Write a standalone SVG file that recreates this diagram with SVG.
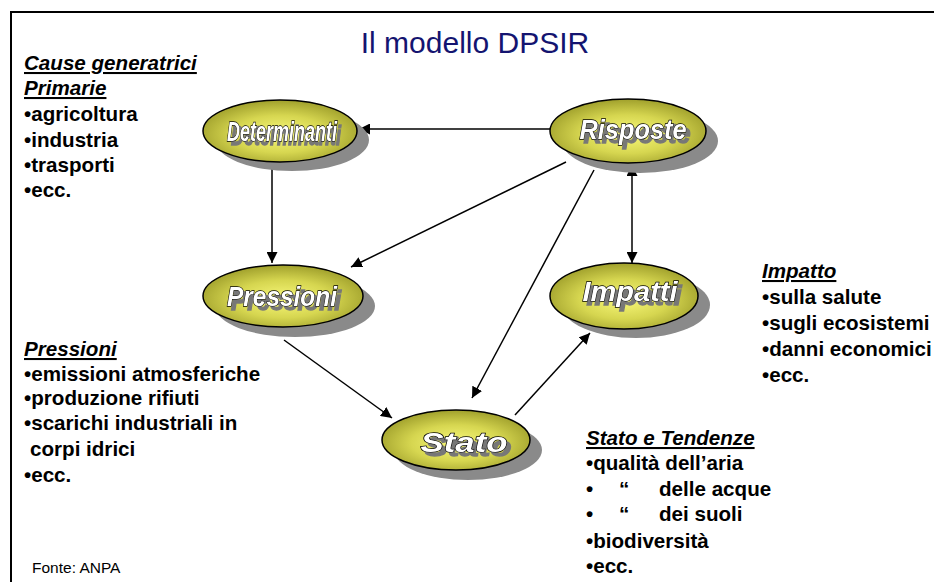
<svg xmlns="http://www.w3.org/2000/svg" width="934" height="582" viewBox="0 0 934 582">
<defs>
<radialGradient id="g" cx="0.5" cy="0.55" r="0.55">
<stop offset="0" stop-color="#f8f87a"/>
<stop offset="0.55" stop-color="#d6d650"/>
<stop offset="1" stop-color="#a0a02c"/>
</radialGradient>
<marker id="ah" viewBox="0 0 10 10" refX="10" refY="5" markerWidth="11" markerHeight="11" markerUnits="userSpaceOnUse" orient="auto-start-reverse">
<path d="M0,0 L10,5 L0,10 z" fill="#000"/>
</marker>
<filter id="tsh" x="-10%" y="-30%" width="130%" height="170%">
<feOffset in="SourceAlpha" dx="4" dy="4" result="o"/>
<feFlood flood-color="#777"/>
<feComposite in2="o" operator="in" result="s"/>
<feMerge><feMergeNode in="s"/><feMergeNode in="SourceGraphic"/></feMerge>
</filter>
</defs>
<style>
.shadow{fill:#8a8a8a}
.ell{fill:url(#g);stroke:#000;stroke-width:1.5}
.lbl{font-family:"Liberation Sans",Arial,sans-serif;font-weight:bold;font-style:italic;font-size:27px;text-anchor:middle;fill:#fff;stroke:#000;stroke-width:1.3;paint-order:stroke;filter:url(#tsh)}
.conn line{stroke:#000;stroke-width:1.5}
.txt{font-family:"Liberation Sans",Arial,sans-serif;font-weight:bold;font-size:20.6px;fill:#000}
.hd{font-style:italic;text-decoration:underline}
</style>
<rect x="0" y="0" width="934" height="582" fill="#fff"/>
<rect x="11" y="12" width="960" height="600" fill="none" stroke="#000" stroke-width="2"/>
<text x="475" y="53" font-family="'Liberation Sans',Arial,sans-serif" font-size="30" fill="#141470" text-anchor="middle">Il modello DPSIR</text>

<g class="conn">
<line x1="550" y1="129" x2="359" y2="129" marker-end="url(#ah)"/>
<line x1="272" y1="163" x2="272" y2="263" marker-end="url(#ah)"/>
<line x1="566" y1="162" x2="351" y2="267" marker-end="url(#ah)"/>
<line x1="594" y1="170" x2="472" y2="398" marker-end="url(#ah)"/>
<line x1="632" y1="165" x2="632" y2="263" marker-start="url(#ah)" marker-end="url(#ah)"/>
<line x1="284" y1="340" x2="392" y2="418" marker-end="url(#ah)"/>
<line x1="515" y1="415" x2="590" y2="333" marker-end="url(#ah)"/>
</g>

<g id="determinanti">
<ellipse class="shadow" cx="292" cy="140" rx="77" ry="31"/>
<ellipse class="ell" cx="280" cy="131" rx="77" ry="31"/>
<text class="lbl" x="282" y="141" textLength="110" lengthAdjust="spacingAndGlyphs">Determinanti</text>
</g>
<g id="risposte">
<ellipse class="shadow" cx="640" cy="141" rx="78" ry="32"/>
<ellipse class="ell" cx="628" cy="131" rx="78" ry="32"/>
<text class="lbl" x="633" y="139" textLength="107" lengthAdjust="spacingAndGlyphs">Risposte</text>
</g>
<g id="pressioni">
<ellipse class="shadow" cx="295" cy="306" rx="80" ry="31"/>
<ellipse class="ell" cx="283" cy="296" rx="80" ry="31"/>
<text class="lbl" x="282" y="306" textLength="110" lengthAdjust="spacingAndGlyphs">Pressioni</text>
</g>
<g id="impatti">
<ellipse class="shadow" cx="636" cy="305" rx="74" ry="33"/>
<ellipse class="ell" cx="624" cy="296" rx="74" ry="33"/>
<text class="lbl" x="630" y="301" textLength="95" lengthAdjust="spacingAndGlyphs">Impatti</text>
</g>
<g id="stato">
<ellipse class="shadow" cx="468" cy="450" rx="74" ry="30"/>
<ellipse class="ell" cx="456" cy="440" rx="74" ry="30"/>
<text class="lbl" x="464" y="452" textLength="87" lengthAdjust="spacingAndGlyphs">Stato</text>
</g>

<g id="cause">
<text class="txt hd" x="24" y="70">Cause generatrici</text>
<text class="txt hd" x="24" y="95">Primarie</text>
<text class="txt" x="24" y="121">•agricoltura</text>
<text class="txt" x="24" y="147">•industria</text>
<text class="txt" x="24" y="172">•trasporti</text>
<text class="txt" x="24" y="197">•ecc.</text>
</g>
<g id="pressioni-list">
<text class="txt hd" x="24" y="356">Pressioni</text>
<text class="txt" x="24" y="381">•emissioni atmosferiche</text>
<text class="txt" x="24" y="405">•produzione rifiuti</text>
<text class="txt" x="24" y="430">•scarichi industriali in</text>
<text class="txt" x="30" y="456">corpi idrici</text>
<text class="txt" x="24" y="482">•ecc.</text>
</g>
<g id="impatto-list">
<text class="txt hd" x="762" y="278">Impatto</text>
<text class="txt" x="762" y="304">•sulla salute</text>
<text class="txt" x="762" y="330">•sugli ecosistemi</text>
<text class="txt" x="762" y="356">•danni economici</text>
<text class="txt" x="762" y="382">•ecc.</text>
</g>
<g id="stato-list">
<text class="txt hd" x="586" y="445">Stato e Tendenze</text>
<text class="txt" x="586" y="470">•qualità dell’aria</text>
<text class="txt" x="586" y="496">•<tspan x="619">“</tspan><tspan x="659">delle acque</tspan></text>
<text class="txt" x="586" y="521">•<tspan x="619">“</tspan><tspan x="659">dei suoli</tspan></text>
<text class="txt" x="586" y="548">•biodiversità</text>
<text class="txt" x="586" y="573">•ecc.</text>
</g>
<text x="32" y="573" font-family="'Liberation Sans',Arial,sans-serif" font-size="15.5" fill="#000">Fonte: ANPA</text>
</svg>
